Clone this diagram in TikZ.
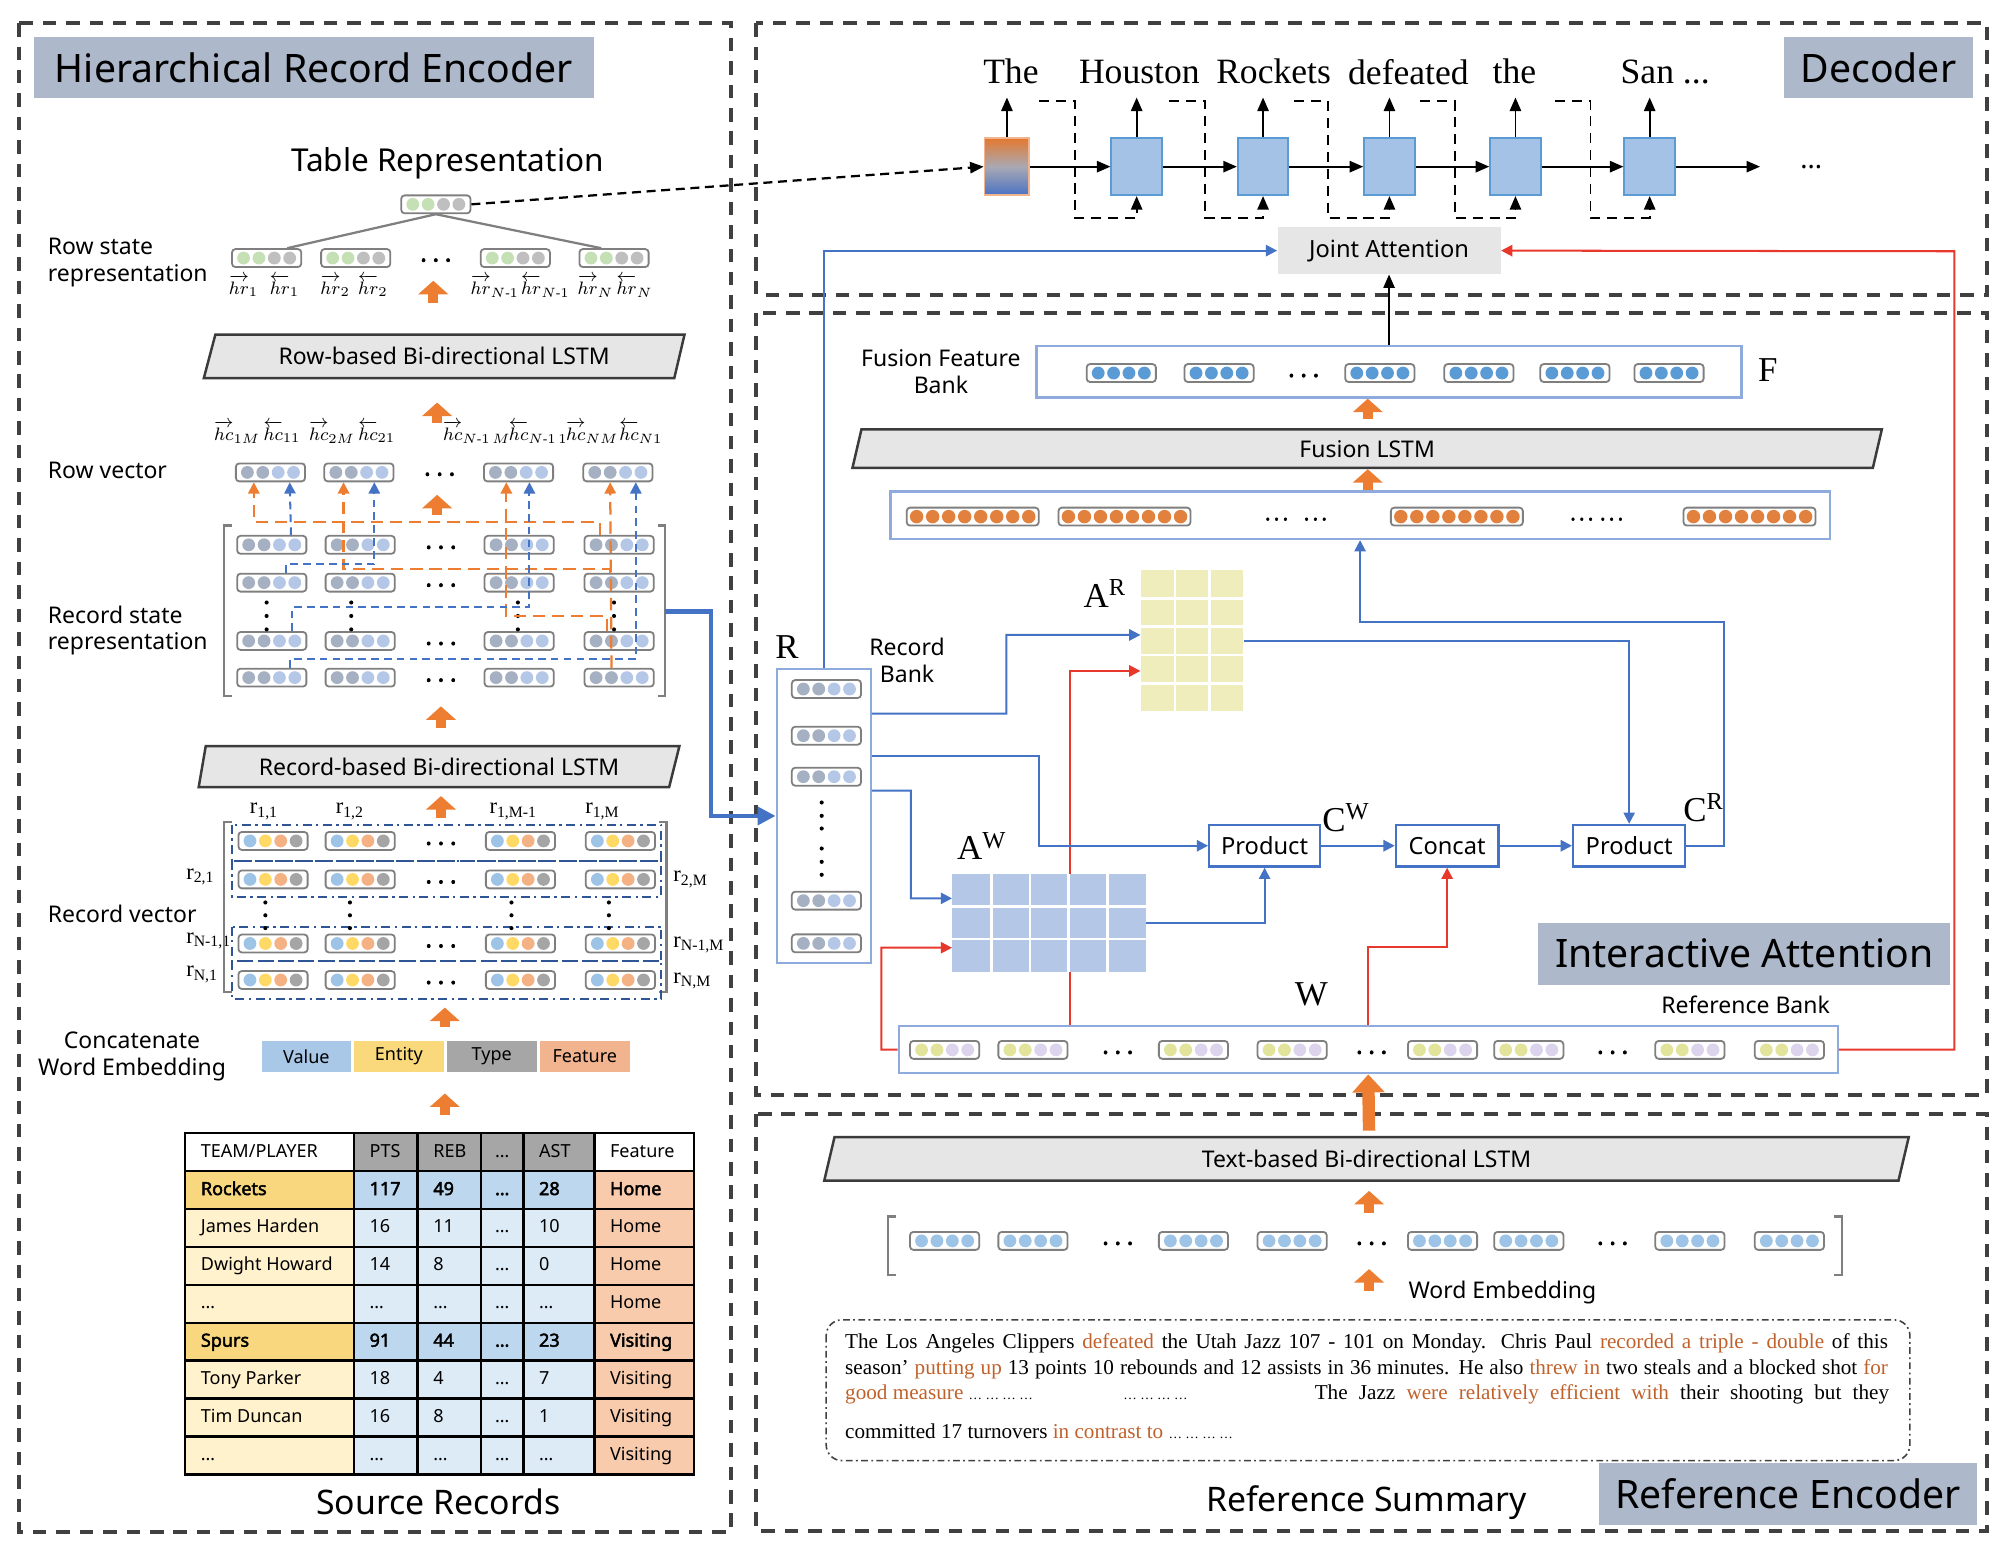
\documentclass[tikz,border=0pt]{standalone}
\usepackage{amsmath}
\usepackage{fontspec}
\setmainfont{Liberation Serif}
\setsansfont{Noto Sans}[AutoFakeBold=2.5]
\usetikzlibrary{arrows.meta,positioning}
\definecolor{framegray}{HTML}{404040}
\definecolor{titlefill}{HTML}{ADB9CA}
\definecolor{lstmfill}{HTML}{E7E6E6}
\definecolor{lstmedge}{HTML}{3B3B3B}
\definecolor{blockor}{HTML}{ED7D31}
\definecolor{lineblue}{HTML}{4472C4}
\definecolor{linered}{HTML}{E8382C}
\definecolor{bankedge}{HTML}{8FAADC}
\definecolor{vecedge}{HTML}{7F7F7F}
\definecolor{vgreen}{HTML}{C5E0B4}
\definecolor{vgray}{HTML}{BFBFBF}
\definecolor{vslate}{HTML}{A5B0C2}
\definecolor{vsky}{HTML}{B4C7E7}
\definecolor{vblue}{HTML}{9DC3E6}
\definecolor{vyellow}{HTML}{FFD966}
\definecolor{vpeach}{HTML}{F4B183}
\definecolor{vstone}{HTML}{A5A5A5}
\definecolor{vdeep}{HTML}{5B9BD5}
\definecolor{vorange}{HTML}{E2803D}
\definecolor{vlime}{HTML}{E2E49C}
\definecolor{vlilac}{HTML}{DCD4EC}
\definecolor{cellblue}{HTML}{A4C2E6}
\definecolor{celledge}{HTML}{5B9BD5}
\definecolor{cellorange}{HTML}{E4782F}
\definecolor{cellmid}{HTML}{A9A9B3}
\definecolor{cellbase}{HTML}{4A72C4}
\definecolor{jointfill}{HTML}{E7E6E6}
\definecolor{arfill}{HTML}{EEEDBB}
\definecolor{awfill}{HTML}{B4C7E7}
\definecolor{rowbox}{HTML}{2F5597}
\definecolor{lgblue}{HTML}{A9C8E8}
\definecolor{lgyellow}{HTML}{F9D97C}
\definecolor{lggray}{HTML}{A6A6A6}
\definecolor{lgpeach}{HTML}{F2B48E}
\definecolor{teamgold}{HTML}{F9D77E}
\definecolor{plyellow}{HTML}{FFF2CC}
\definecolor{numteam}{HTML}{BDD7EE}
\definecolor{numpl}{HTML}{DDEBF7}
\definecolor{featfill}{HTML}{F8CBAD}
\definecolor{headgray}{HTML}{A6A6A6}
\definecolor{sumbrown}{HTML}{C0612B}

\begin{document}
\begin{tikzpicture}[x=0.02cm,y=-0.02cm,
  frame/.style={draw=framegray,line width=1.7pt,dash pattern=on 6pt off 4.4pt},
  titlebox/.style={fill=titlefill,inner sep=0pt,font=\sffamily\fontsize{17.4}{20}\selectfont},
  lbl/.style={inner sep=0pt,align=center,font=\sffamily\fontsize{10.2}{11.8}\selectfont},
  biglbl/.style={inner sep=0pt,font=\sffamily\fontsize{15}{18}\selectfont},
  math/.style={inner sep=0pt,font=\fontsize{8.5}{10}\selectfont},
  serif/.style={inner sep=0pt,font=\fontsize{15.5}{18}\selectfont},
  word/.style={inner sep=0pt,font=\fontsize{15.8}{18}\selectfont},
  rlab/.style={inner sep=0pt,font=\fontsize{10}{11}\selectfont},
  lstmbar/.style={fill=lstmfill,draw=lstmedge,line width=1.1pt},
  bank/.style={draw=bankedge,line width=1pt,fill=white,inner sep=0pt},
  opbox/.style={draw=lineblue,line width=1pt,fill=white,minimum height=0.65cm,inner sep=0pt,
    font=\sffamily\fontsize{10.5}{12}\selectfont},
  deccell/.style={draw=celledge,fill=cellblue,line width=0.8pt,minimum width=0.79cm,
    minimum height=0.89cm,inner sep=0pt},
  upblock/.style={draw=blockor,line width=4.5pt,-{Triangle[width=13pt,length=6pt]}},
  bl/.style={draw=lineblue,line width=0.9pt,-{Triangle[width=5pt,length=5pt]}},
  rd/.style={draw=linered,line width=0.9pt,-{Triangle[width=5pt,length=5pt]}},
  dar/.style={line width=0.8pt,-{Triangle[width=5pt,length=6pt]}},
  odash/.style={draw=blockor,line width=1pt,dash pattern=on 5.5pt off 3pt,
    -{Triangle[width=5pt,length=5pt]}},
  bdash/.style={draw=lineblue,line width=0.9pt,dash pattern=on 3.4pt off 2.3pt,
    -{Triangle[width=5pt,length=5pt]}},
  dloop/.style={line width=0.8pt,dash pattern=on 4.5pt off 3pt,-{Triangle[width=5pt,length=6pt]}},
  tdash/.style={line width=1pt,dash pattern=on 4pt off 2.5pt,-{Triangle[width=5pt,length=6pt]}},
  rowdash/.style={draw=rowbox,line width=0.9pt,dash pattern=on 4pt off 2pt on 1pt off 2pt},
  brk/.style={draw=vecedge,line width=1pt},
  tabtxt/.style={anchor=west,inner sep=0pt,text height=6pt,text depth=1.6pt,
    font=\sffamily\fontsize{8}{9.6}\selectfont},
  sumline/.style={anchor=west,inner sep=0pt,text height=6.5pt,text depth=2pt,
    font=\fontsize{9.4}{11}\selectfont},
  hdots/.style={inner sep=0pt,font=\sffamily\bfseries\fontsize{11}{11}\selectfont,
    node contents={.\hspace{2.5pt}.\hspace{2.5pt}.}},
  vec/.style n args={4}{draw=vecedge,line width=0.8pt,rounded corners=1.5pt,fill=white,
    minimum width=1.08cm,minimum height=0.28cm,inner sep=0pt,
    path picture={
      \fill[#1] (path picture bounding box.center) ++(-0.36cm,0pt) circle[radius=0.1cm];
      \fill[#2] (path picture bounding box.center) ++(-0.12cm,0pt) circle[radius=0.1cm];
      \fill[#3] (path picture bounding box.center) ++(0.12cm,0pt) circle[radius=0.1cm];
      \fill[#4] (path picture bounding box.center) ++(0.36cm,0pt) circle[radius=0.1cm];}},
  vec8/.style={draw=vecedge,line width=0.8pt,rounded corners=1.5pt,fill=white,
    minimum width=2.06cm,minimum height=0.28cm,inner sep=0pt,
    path picture={\foreach \k in {-7,-5,...,7}
      \fill[#1] (path picture bounding box.center) ++(\k*0.125cm,0pt) circle[radius=0.105cm];}}]

  \useasboundingbox (0,0) rectangle (1568,1208);
  % Frames and titles
  \draw[frame] (15,18) rectangle (570,1195);
  \draw[frame] (590,18) rectangle (1550,230);
  \draw[frame] (590,244) rectangle (1550,854);
  \draw[frame] (590,869) rectangle (1550,1194);
  \node[titlebox,minimum width=8.73cm,minimum height=0.96cm] (hrettl) at (244.8,52.6) {Hierarchical Record Encoder};
  \node[titlebox,minimum width=2.95cm,minimum height=0.96cm] (decttl) at (1465.3,52.6) {Decoder};
  \node[titlebox,minimum width=6.43cm,minimum height=0.96cm] (iattl) at (1360.7,744) {Interactive Attention};
  \node[titlebox,minimum width=5.89cm,minimum height=0.97cm] (rettl) at (1394.8,1165.4) {Reference Encoder};

  % Table representation and row states
  \node[biglbl,font=\sffamily\fontsize{14}{16}\selectfont] (tabrep) at (349,127.5) {Table Representation};
  \node[vec={vgreen}{vgreen}{vgray}{vgray}] (tabvec) at (340,159.4) {};
  \foreach \i/\x in {1/208,2/277.5,3/402,4/479}
    \node[vec={vgreen}{vgreen}{vgray}{vgray}] (rs\i) at (\x,201.3) {};
  \node (rsdots) at (340,203) [hdots];
  \draw[vecedge,line width=1pt] (tabvec.south) -- ([xshift=0.32cm]rs1.north);
  \draw[vecedge,line width=1pt] (tabvec.south) -- ([xshift=-0.2cm]rs4.north);
  \foreach \n/\x/\t in {hra/190/\overrightarrow{hr}_{1},hrb/222/\overleftarrow{hr}_{1},
      hrc/261.5/\overrightarrow{hr}_{2},hrd/291/\overleftarrow{hr}_{2},
      hre/386/\overrightarrow{hr}_{N\text{-}1},hrf/425.5/\overleftarrow{hr}_{N\text{-}1},
      hrg/464.5/\overrightarrow{hr}_{N},hrh/495/\overleftarrow{hr}_{N}}
    \node[math] (\n) at (\x,223) {$\t$};
  \draw[upblock] (338,236) -- (338,219);
  \node[lbl,align=left,anchor=west] (rslbl) at (37,205) {Row state\\representation};

  % Row-based LSTM
  \draw[lstmbar] (159,295) -- (168,261) -- (534,261) -- (526,295) -- cycle;
  \node[lbl] (rowlstm) at (346.5,278) {Row-based Bi-directional LSTM};
  \draw[upblock] (341,330) -- (341,314);
  \foreach \n/\x/\t in {hca/185/\overrightarrow{hc}_{1M},hcb/220/\overleftarrow{hc}_{11},
      hcc/259/\overrightarrow{hc}_{2M},hcd/294/\overleftarrow{hc}_{21},
      hce/372/\overrightarrow{hc}_{N\text{-}1\,M},hcf/420/\overleftarrow{hc}_{N\text{-}1\,1},
      hcg/462/\overrightarrow{hc}_{NM},hch/500/\overleftarrow{hc}_{N1}}
    \node[math] (\n) at (\x,337) {$\t$};

  % Row vectors
  \foreach \i/\x in {1/211,2/280,3/404.5,4/482}
    \node[vec={vslate}{vslate}{vsky}{vsky}] (rv\i) at (\x,368.5) {};
  \node (rvdots) at (343,370) [hdots];
  \node[lbl,anchor=west] (rvlbl) at (37,367) {Row vector};
  \draw[upblock] (341,402) -- (341,386);

  % Record state representation
  \draw[brk] (181,410) -- (175,410) -- (175,543) -- (181,543);
  \draw[brk] (513,410) -- (519,410) -- (519,543) -- (513,543);
  \foreach \r/\y in {1/425,2/454.5,3/500,4/528.6}{
    \foreach \c/\x in {1/212,2/281,3/405,4/483}
      \node[vec={vslate}{vslate}{vsky}{vsky}] (st\r\c) at (\x,\y) {};
    \node (std\r) at (344,\y+2) [hdots];
  }
  \foreach \x in {208,274,404,479}
    \foreach \y in {470,480.5,491}
      \fill (\x,\y) circle[radius=1.6];
  \draw[odash] ([xshift=-0.3cm]st14.north) -- ++(0,-10) -| ([xshift=-0.26cm]rv1.south);
  \draw[odash] ([xshift=-0.14cm]st24.north) -- ++(0,-3) -| ([xshift=-0.24cm]rv2.south);
  \draw[odash] ([xshift=-0.19cm]st34.north) -- ++(0,-11.5) -| ([xshift=-0.19cm]rv3.south);
  \draw[odash] ([xshift=-0.12cm]st44.north) -- ([xshift=-0.12cm]rv4.south);
  \draw[bdash] ([xshift=0.3cm]st11.north) -- ([xshift=0.3cm]rv1.south);
  \draw[bdash] ([xshift=0.22cm]st21.north) -- ++(0,-6.5) -| ([xshift=0.24cm]rv2.south);
  \draw[bdash] ([xshift=0.32cm]st31.north) -- ++(0,-18.5) -| ([xshift=0.17cm]rv3.south);
  \draw[bdash] ([xshift=0.28cm]st41.north) -- ++(0,-6.6) -| ([xshift=0.28cm]rv4.south);
  \node[lbl,align=left,anchor=west] (stlbl) at (37,492) {Record state\\representation};
  \coordinate (stout) at (519,477);

  % Record-based LSTM
  \draw[upblock] (344,568) -- (344,551);
  \draw[lstmbar] (155,614) -- (160.5,582) -- (530,582) -- (522,614) -- cycle;
  \node[lbl] (reclstm) at (342.5,598) {Record-based Bi-directional LSTM};
  \draw[upblock] (344,638) -- (344,621);

  % Record vectors
  \foreach \n/\x/\t in {rla/206/{1,1},rlb/273/{1,2},rlc/400.5/{1,M-1},rld/470/{1,M}}
    \node[rlab] (\n) at (\x,633) {r\textsubscript{\t}};
  \foreach \n/\y/\t in {rle/684/{2,1},rlf/734/{N-1,1},rlg/760/{N,1}}
    \node[rlab,anchor=west] (\n) at (145,\y) {r\textsubscript{\t}};
  \foreach \n/\y/\t in {rlh/686/{2,M},rli/737/{N-1,M},rlj/765/{N,M}}
    \node[rlab,anchor=west] (\n) at (525,\y) {r\textsubscript{\t}};
  \draw[brk] (181,641) -- (175,641) -- (175,774) -- (181,774);
  \draw[brk] (514,641) -- (520,641) -- (520,774) -- (514,774);
  \foreach \y/\h in {643.5/671.6,671.6/699.4,722.8/750,750/779}
    \draw[rowdash] (181,\y) rectangle (516,\h);
  \foreach \r/\y in {1/656,2/686,3/736,4/764.5}{
    \foreach \c/\x in {1/213,2/281,3/406,4/484}
      \node[vec={vblue}{vyellow}{vpeach}{vstone}] (rc\r\c) at (\x,\y) {};
    \node (rcd\r) at (344,\y+2) [hdots];
  }
  \foreach \x in {207,273,399,475}
    \foreach \y in {704,714,724}
      \fill (\x,\y) circle[radius=1.6];
  \node[lbl,anchor=west] (rclbl) at (37,713) {Record vector};
  \draw[upblock] (347,801) -- (347,786);

  % Concatenated word embedding
  \node[lbl] (catlbl) at (103,824) {Concatenate\\Word Embedding};
  \foreach \n/\x/\c/\t in {lgv/239/lgblue/Value,lge/311.2/lgyellow/Entity,lgt/383.6/lggray/Type,lgf/456.2/lgpeach/Feature}
    \node[fill=\c,minimum width=1.4cm,minimum height=0.48cm,inner sep=0pt,
      font=\sffamily\fontsize{8}{9}\selectfont] (\n) at (\x,824) {\t};
  \draw[upblock] (347,870) -- (347,853);

  % Source records table
  \foreach \rr/\fa/\fb/\fc in {0/white/headgray/white,1/teamgold/numteam/featfill,2/plyellow/numpl/featfill,
      3/plyellow/numpl/featfill,4/plyellow/numpl/featfill,5/teamgold/numteam/featfill,
      6/plyellow/numpl/featfill,7/plyellow/numpl/featfill,8/plyellow/numpl/featfill}{
    \fill[\fa] (144.4,884+29.57*\rr) rectangle (276,913.57+29.57*\rr);
    \fill[\fb] (276,884+29.57*\rr) rectangle (463.6,913.57+29.57*\rr);
    \fill[\fc] (463.6,884+29.57*\rr) rectangle (541.2,913.57+29.57*\rr);
  }
  \foreach \x in {144.4,276,325.7,375.4,408.2,463.6,541.2}
    \draw[line width=1.1pt,line cap=rect] (\x,884) -- (\x,1150.1);
  \foreach \rr in {0,...,9}
    \draw[line width=1.1pt,line cap=rect] (144.4,884+29.57*\rr) -- (541.2,884+29.57*\rr);
  \node[tabtxt] (tha) at (156.4,898.8) {TEAM/PLAYER};
  \node[tabtxt] (thb) at (288,898.8) {PTS};
  \node[tabtxt] (thc) at (337.7,898.8) {REB};
  \node[tabtxt,anchor=center] (thx) at (391.8,898.8) {…};
  \node[tabtxt] (thd) at (420.2,898.8) {AST};
  \node[tabtxt] (the) at (475.6,898.8) {Feature};
  \foreach \rr/\ta/\tb/\tc/\td/\te/\tw in {1/Rockets/117/49/28/Home/\bfseries,
      2/James Harden/16/11/10/Home/\mdseries,3/Dwight Howard/14/8/0/Home/\mdseries,
      4/…/…/…/…/Home/\mdseries,5/Spurs/91/44/23/Visiting/\bfseries,
      6/Tony Parker/18/4/7/Visiting/\mdseries,7/Tim Duncan/16/8/1/Visiting/\mdseries,
      8/…/…/…/…/Visiting/\mdseries}{
    \node[tabtxt] (ta\rr) at (156.4,898.8+29.57*\rr) {\tw\ta};
    \node[tabtxt] (tb\rr) at (288,898.8+29.57*\rr) {\tw\tb};
    \node[tabtxt] (tc\rr) at (337.7,898.8+29.57*\rr) {\tw\tc};
    \node[tabtxt,anchor=center] (tx\rr) at (391.8,898.8+29.57*\rr) {\tw …};
    \node[tabtxt] (td\rr) at (420.2,898.8+29.57*\rr) {\tw\td};
    \node[tabtxt] (te\rr) at (475.6,898.8+29.57*\rr) {\tw\te};
  }
  \node[biglbl] (srclbl) at (342,1171.5) {Source Records};

  % Decoder
  \foreach \n/\x/\t in {wa/788.6/The,wb/888.8/Houston,wc/993.5/Rockets,wd/1098.7/defeated,we/1181.4/the}
    \node[word] (\n) at (\x,56) {\t};
  \node[word] (wf) at (1299,56) {San ...};
  \node[draw=lgpeach,line width=0.8pt,top color=cellorange,bottom color=cellbase,middle color=cellmid,
    minimum width=0.7cm,minimum height=0.89cm,inner sep=0pt] (dec0) at (785.5,130) {};
  \foreach \i/\x in {1/886.7,2/985.3,3/1083.9,4/1182.2,5/1286.9}
    \node[deccell] (dec\i) at (\x,130) {};
  \foreach \i [count=\j from 1] in {0,...,4}
    \draw[dar] (dec\i.east) -- (dec\j.west);
  \coordinate (decend) at (1373,130);
  \draw[dar] (dec5.east) -- (decend);
  \node[font=\sffamily\fontsize{12}{12}\selectfont,inner sep=0pt] (decdots) at (1413,130) {...};
  \foreach \i in {0,...,5}
    \draw[dar] (dec\i.north) -- ++(0,-31);
  \foreach \a/\b/\i in {810.5/838.7/1,912/940/2,1009.7/1036/3,1108/1135/4,1213/1240.8/5}
    \draw[dloop] (\a,79) -| (\b,170) -| (dec\i.south);
  \draw[tdash] (tabvec.east) -- (dec0.west);
  \node[fill=jointfill,minimum width=3.48cm,minimum height=0.73cm,inner sep=0pt,
    font=\sffamily\fontsize{10.5}{12}\selectfont] (joint) at (1083.6,195.5) {Joint Attention};

  % Fusion feature bank
  \node[lbl] (fflbl) at (734,290) {Fusion Feature\\Bank};
  \node[bank,minimum width=11cm,minimum height=0.8cm] (ffbank) at (1083.6,290) {};
  \foreach \i/\x in {1/874.7,2/951,3/1076.4,4/1153.7,5/1228.6,6/1302}
    \node[vec={vdeep}{vdeep}{vdeep}{vdeep}] (ff\i) at (\x,291) {};
  \node (ffdots) at (1017,293) [hdots];
  \node[serif] (flbl) at (1379,289) {F};
  \draw[dar] (ffbank.north) -- (joint.south);
  \draw[upblock] (1067,327) -- (1067,311);
  \draw[lstmbar] (665,365) -- (672,335) -- (1468,335) -- (1461,365) -- cycle;
  \node[lbl] (fuslstm) at (1066.5,350) {Fusion LSTM};
  \draw[upblock] (1067,383) -- (1067,366);
  \node[bank,minimum width=14.66cm,minimum height=0.74cm] (obank) at (1061,402) {};
  \foreach \i/\x in {1/758.8,2/877.2,3/1136.5,4/1364.8}
    \node[vec8=vorange] (ob\i) at (\x,403) {};
  \node (obd1) at (1011,405) [hdots,font=\sffamily\bfseries\fontsize{9}{9}\selectfont,
    node contents={.\hspace{1.5pt}.\hspace{1.5pt}.\hspace{7pt}.\hspace{1.5pt}.\hspace{1.5pt}.}];
  \node (obd2) at (1245.6,405) [hdots,font=\sffamily\bfseries\fontsize{9}{9}\selectfont,
    node contents={.\hspace{1.5pt}.\hspace{1.5pt}.\hspace{3pt}.\hspace{1.5pt}.\hspace{1.5pt}.}];

  % Record bank
  \node[serif] (rlbl) at (614,505) {R};
  \node[lbl] (rblbl) at (707.6,515) {Record\\Bank};
  \node[draw=bankedge,line width=1pt,fill=white,minimum width=1.47cm,minimum height=4.58cm,
    inner sep=0pt] (rbank) at (642.6,636.5) {};
  \foreach \i/\y in {1/537.5,2/573.9,3/605.9,4/702.6,5/735.9}
    \node[vec={vslate}{vslate}{vsky}{vsky}] (rbv\i) at (644.7,\y) {};
  \foreach \y in {626,636.4,646.3,661.9,672.3,682.4}
    \fill (641,\y) circle[radius=1.6];
  \draw[draw=lineblue,line width=1.8pt,-{Triangle[width=8pt,length=8pt]}] (stout) -| (555,636.5) -- (rbank.west);
  \draw[bl] (rbank.north) |- (joint.west);

  % Reference bank
  \node[bank,minimum width=14.65cm,minimum height=0.74cm] (refbank) at (1067.35,818.75) {};
  \foreach \i/\x in {1/736.9,2/805.8,3/931,4/1008,5/1125.3,6/1192.6,7/1318.3,8/1395.9}
    \node[vec={vlime}{vlime}{vlilac}{vlilac}] (rb\i) at (\x,819) {};
  \foreach \n/\x in {rbd1/872,rbd2/1070,rbd3/1258}
    \node (\n) at (\x,821) [hdots];
  \node[serif] (wlbl) at (1023,776) {W};
  \node[lbl] (reflbl) at (1361.7,784) {Reference Bank};
  \draw[rd] (refbank.east) -| (1524.6,196) -- (joint.east);

  % Attention matrices
  \node[fill=arfill,minimum width=1.6cm,minimum height=2.2cm,inner sep=0pt] (ar) at (930,500) {};
  \foreach \x in {916.7,943.3} \draw[white,line width=1.2pt] (\x,445) -- (\x,555);
  \foreach \y in {466.7,488.8,510.9,533} \draw[white,line width=1.2pt] (890,\y) -- (970,\y);
  \node[serif] (arlbl) at (862,463) {A\textsuperscript{R}};
  \draw[rd] ([xshift=-4.656cm]refbank.north) |- ([yshift=-0.468cm]ar.west);
  \node[fill=awfill,minimum width=3.02cm,minimum height=1.52cm,inner sep=0pt] (aw) at (818.5,720) {};
  \foreach \x in {773.2,803.4,833.6,863.8} \draw[white,line width=1.2pt] (\x,682) -- (\x,758);
  \foreach \y in {707.3,732.6} \draw[white,line width=1.2pt] (743,\y) -- (894,\y);
  \node[serif] (awlbl) at (766,660) {A\textsuperscript{W}};

  % Product and concat
  \node[opbox,minimum width=1.73cm] (prod1) at (986.5,659.75) {Product};
  \node[opbox,minimum width=1.6cm] (concat) at (1128.9,659.75) {Concat};
  \node[opbox,minimum width=1.75cm] (prod2) at (1270.9,659.75) {Product};
  \node[serif] (cwlbl) at (1050,638) {C\textsuperscript{W}};
  \node[serif] (crlbl) at (1329,630) {C\textsuperscript{R}};

  % Interactive attention connectors
  \draw[bl] ([yshift=-0.712cm]rbank.north east) -| (785,495.3) -- ([yshift=0.094cm]ar.west);
  \draw[bl] ([yshift=-1.366cm]rbank.north east) -| (810.4,659.75) -- (prod1.west);
  \draw[bl] ([yshift=-1.912cm]rbank.north east) -| (710.6,700.8) -- ([yshift=0.384cm]aw.west);
  \draw[rd] (refbank.west) -| (687.6,739.3) -- ([yshift=-0.386cm]aw.west);
  \draw[bl] (aw.east) -| (prod1.south);
  \draw[bl] (ar.east) -| (prod2.north);
  \draw[bl] (prod1.east) -- (concat.west);
  \draw[bl] (concat.east) -- (prod2.west);
  \draw[rd] (refbank.north) -- (1067.35,738.4) -| (concat.south);
  \draw[bl] (prod2.east) -| (1344.8,485) -| (obank.south);

  % Reference encoder
  \coordinate (rebase) at (1068,882);
  \draw[draw=blockor,line width=5.5pt,-{Triangle[width=14pt,length=8pt]}] (rebase) -- (refbank.south);
  \draw[lstmbar] (643,921) -- (651,887) -- (1489,887) -- (1481,921) -- cycle;
  \node[lbl] (txtlstm) at (1066,904) {Text-based Bi-directional LSTM};
  \draw[upblock] (1068,946) -- (1068,929);
  \draw[brk] (699,949) -- (693,949) -- (693,994.5) -- (699,994.5);
  \draw[brk] (1431,949) -- (1437,949) -- (1437,994.5) -- (1431,994.5);
  \foreach \i/\x in {1/736.9,2/805.8,3/931,4/1008,5/1125.3,6/1192.6,7/1318.3,8/1395.9}
    \node[vec={vblue}{vblue}{vblue}{vblue}] (we\i) at (\x,968) {};
  \foreach \n/\x in {wed1/872,wed2/1070,wed3/1258}
    \node (\n) at (\x,970) [hdots];
  \draw[upblock] (1068,1007) -- (1068,990);
  \node[lbl] (welbl) at (1172,1008) {Word Embedding};
  \draw[draw=black!75,line width=0.7pt,rounded corners=7pt,dash pattern=on 3pt off 1.5pt on 0.8pt off 1.5pt]
    (644.5,1029.6) rectangle (1489.9,1139.4);
  \node[sumline] (sla) at (659,1047.8) {\makebox[463pt][s]{The Los Angeles Clippers \textcolor{sumbrown}{defeated} the Utah Jazz 107 - 101 on Monday. Chris Paul \textcolor{sumbrown}{recorded a triple - double} of this}};
  \node[sumline] (slb) at (659,1068.1) {\makebox[463pt][s]{season’ \textcolor{sumbrown}{putting up} 13 points 10 rebounds and 12 assists in 36 minutes. He also \textcolor{sumbrown}{threw in} two steals and a blocked shot \textcolor{sumbrown}{for}}};
  \node[sumline] (slc) at (659,1087.4) {\textcolor{sumbrown}{good measure} {\fontsize{6}{6}\selectfont … … … …}};
  \node[sumline] (sld) at (876,1087.4) {{\fontsize{6}{6}\selectfont … … … …}};
  \node[sumline] (sle) at (1025.3,1087.4) {\makebox[255pt][s]{The Jazz \textcolor{sumbrown}{were relatively efficient with} their shooting but they}};
  \node[sumline] (slf) at (659,1118) {committed 17 turnovers \textcolor{sumbrown}{in contrast to} {\fontsize{6}{6}\selectfont … … … …}};
  \node[biglbl] (sumlbl) at (1066,1172.4) {Reference Summary};
\end{tikzpicture}
\end{document}
